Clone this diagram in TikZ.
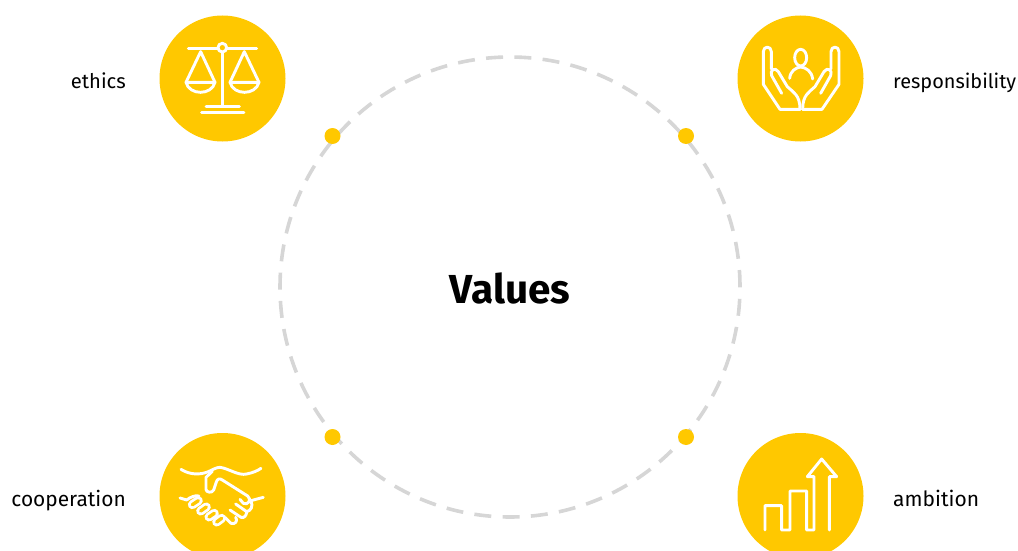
\documentclass[tikz,border=0pt]{standalone}
\usepackage{fontspec}
\setmainfont{Fira Sans}
\definecolor{ingyellow}{HTML}{FFC800}
\definecolor{ringgrey}{HTML}{D6D6D6}
\tikzset{
  badge/.style={circle,fill=ingyellow,minimum size=126pt,inner sep=0pt},
  dotmark/.style={circle,fill=ingyellow,minimum size=16pt,inner sep=0pt},
  lab/.style={inner sep=0pt,text=black},
  glyph/.style={draw=white,line width=2.9pt,line cap=round,line join=round},
  capout/.style={draw=white,line width=9pt,line cap=round},
  capin/.style={draw=ingyellow,line width=3.4pt,line cap=round},
}
\begin{document}
\begin{tikzpicture}[x=1pt,y=-1pt]
\useasboundingbox (0,0) rectangle (1018,551);
\begin{scope}
\clip (0,0) rectangle (1018,551);
\node[badge] (ethicsb) at (222.5,78.5) {};
\node[badge] (respb) at (800.5,78.5) {};
\node[badge] (coopb) at (222.5,496) {};
\node[badge] (ambb) at (800.5,496) {};
\end{scope}
\coordinate (cc) at (510,287);
\draw[ringgrey,line width=3.6pt,dash pattern=on 17pt off 11.33pt] (cc) circle (230pt);
\node[dotmark] (d1) at (332.5,136) {};
\node[dotmark] (d2) at (686,136) {};
\node[dotmark] (d3) at (332.5,437) {};
\node[dotmark] (d4) at (686,437) {};
\node[inner sep=0pt,anchor=base,font=\fontsize{40.5}{44}\selectfont\bfseries] (vals) at (510,303) {Values};
\node[lab,anchor=base east,font=\fontsize{20.2}{24}\selectfont] (l1) at (126,88.5) {ethics};
\node[lab,anchor=base west,font=\fontsize{19.9}{24}\selectfont] (l2) at (893,88.5) {responsibility};
\node[lab,anchor=base east,font=\fontsize{20.9}{24}\selectfont] (l3) at (126,506.5) {cooperation};
\node[lab,anchor=base west,font=\fontsize{21}{24}\selectfont] (l4) at (893,506.5) {ambition};
% scales
\begin{scope}[shift={(150,5)},x=0.3333pt,y=-0.3333pt,glyph]
\draw (115,130)--(204,130) (230,130)--(320,130);
\draw (217,128) circle (13);
\draw (217,142)--(217,300) (168,305)--(268,305) (155,323)--(282,323);
\draw (108,232)--(152,140)--(195,232);
\draw (108,232)--(195,232) .. controls (185,272) and (118,272) .. (108,232);
\draw (240,232)--(283,140)--(327,232);
\draw (240,232)--(327,232) .. controls (317,272) and (250,272) .. (240,232);
\end{scope}
% hands
\begin{scope}[shift={(730,5)},x=0.3333pt,y=-0.3333pt,glyph]
\draw (212,158) ellipse (18 and 25);
\draw (179,220) .. controls (181,198) and (197,188) .. (212,186) .. controls (228,188) and (245,198) .. (248,222);
\draw (210,313)--(150,313)--(100,238)--(100,140) .. controls (100,122) and (124,122) .. (124,140)--(124,192);
\draw (155,265)--(125,212) .. controls (118,195) and (135,185) .. (145,200)--(172,245) .. controls (190,262) and (210,270) .. (210,313);
\draw (218,313)--(276,313)--(327,238)--(327,140) .. controls (327,122) and (303,122) .. (303,140)--(303,192);
\draw (272,265)--(302,212) .. controls (309,195) and (292,185) .. (282,200)--(255,245) .. controls (237,262) and (218,270) .. (218,313);
\end{scope}
% handshake
\begin{scope}[shift={(175,460)},x=0.3333pt,y=-0.3333pt]
\draw[glyph] (18,28) .. controls (45,45) and (75,45) .. (100,35) .. controls (115,28) and (125,22) .. (135,22) .. controls (160,25) and (190,48) .. (215,42) .. controls (235,38) and (248,32) .. (258,25);
\draw[glyph] (112,34)--(93,52)--(93,88) .. controls (93,98) and (112,100) .. (116,90)--(124,66) .. controls (127,56) and (134,54) .. (142,60)--(218,108) .. controls (232,118) and (218,138) .. (205,130);
\draw[glyph] (15,114)--(35,120) (265,112)--(228,122);
\draw[glyph] (35,120) .. controls (45,112) and (60,105) .. (72,108);
\foreach \ax/\ay/\bx/\by in {52/134/70/122, 77/153/94/141, 102/171/118/160, 125/186/140/175} {
  \draw[capout] (\ax,\ay)--(\bx,\by);
  \draw[capin] (\ax,\ay)--(\bx,\by);
}
\draw[glyph] (150,172)--(168,190) .. controls (180,195) and (190,182) .. (182,172);
\draw[glyph] (165,150)--(198,172) (182,132)--(215,155) (195,118)--(205,130);
\draw[glyph] (198,172) .. controls (208,176) and (215,165) .. (215,155);
\draw[glyph] (215,155) .. controls (228,152) and (235,140) .. (228,122);
\end{scope}
% growth
\begin{scope}[shift={(730,425)},x=0.3333pt,y=-0.3333pt,glyph]
\draw (105,315)--(105,242)--(155,242)--(155,315)--(180,315)--(180,198)--(230,198)--(230,315)--(252,315)--(252,155)--(232,155)--(275,102)--(320,155)--(298,155)--(298,315);
\end{scope}
\end{tikzpicture}
\end{document}
